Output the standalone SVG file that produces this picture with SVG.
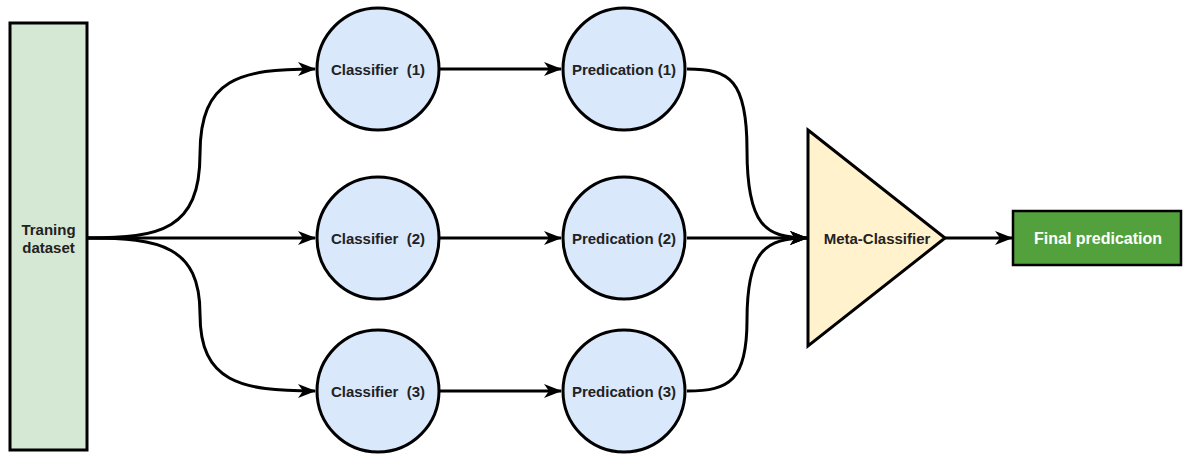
<svg xmlns="http://www.w3.org/2000/svg" width="1184" height="456" viewBox="0 0 1184 456">
<defs>
<marker id="arr" viewBox="0 0 18 14" refX="17" refY="7" markerWidth="18" markerHeight="14" markerUnits="userSpaceOnUse" orient="auto">
<path d="M0,0 L18,7 L0,14 L5,7 Z" fill="#000"/>
</marker>
<style>
.lbl{font-family:"Liberation Sans",Arial,sans-serif;font-weight:bold;font-size:15px;fill:#222;text-anchor:middle;dominant-baseline:central;white-space:pre}
.circ{fill:#dae8fc;stroke:#000;stroke-width:3}
.edge{fill:none;stroke:#000;stroke-width:3;marker-end:url(#arr)}
</style>
</defs>
<rect width="1184" height="456" fill="#fff"/>
<g id="connectors">
<path class="edge" d="M88,238 C160,238 200,230 200,154 C200,78 240,69 315,69"/>
<path class="edge" d="M88,238 L315,238"/>
<path class="edge" d="M88,238 C160,238 200,246 200,314 C200,382 240,391 315,391"/>
<path class="edge" d="M440,69 L561,69"/>
<path class="edge" d="M440,238 L561,238"/>
<path class="edge" d="M440,391 L561,391"/>
<path class="edge" d="M687,69 C730,69 747,80 747,150 C747,225 765,238 807,238"/>
<path class="edge" d="M687,238 L807,238"/>
<path class="edge" d="M687,391 C730,391 747,380 747,320 C747,251 765,238 807,238"/>
<path class="edge" d="M945,238 L1012,238"/>
</g>
<g id="training">
<rect x="10" y="23" width="77" height="427" fill="#d5e8d4" stroke="#000" stroke-width="3"/>
<text class="lbl" x="48.5" y="229">Traning</text>
<text class="lbl" x="48.5" y="247">dataset</text>
</g>
<g id="classifier1"><circle class="circ" cx="378" cy="69" r="61"/><text class="lbl" x="378" y="69">Classifier  (1)</text></g>
<g id="classifier2"><circle class="circ" cx="378" cy="238" r="61"/><text class="lbl" x="378" y="238">Classifier  (2)</text></g>
<g id="classifier3"><circle class="circ" cx="378" cy="391" r="61"/><text class="lbl" x="378" y="391">Classifier  (3)</text></g>
<g id="pred1"><circle class="circ" cx="624" cy="69" r="61"/><text class="lbl" x="624" y="69">Predication (1)</text></g>
<g id="pred2"><circle class="circ" cx="624" cy="238" r="61"/><text class="lbl" x="624" y="238">Predication (2)</text></g>
<g id="pred3"><circle class="circ" cx="624" cy="391" r="61"/><text class="lbl" x="624" y="391">Predication (3)</text></g>
<g id="meta">
<polygon points="808,130 945,238 808,346" fill="#fff2cc" stroke="#000" stroke-width="3" stroke-linejoin="miter"/>
<text class="lbl" x="877" y="238">Meta-Classifier</text>
</g>
<g id="final">
<rect x="1013" y="211" width="168" height="54" fill="#53a13d" stroke="#000" stroke-width="2.5"/>
<text class="lbl" x="1098" y="238" style="fill:#fff;font-size:16px">Final predication</text>
</g>
</svg>
